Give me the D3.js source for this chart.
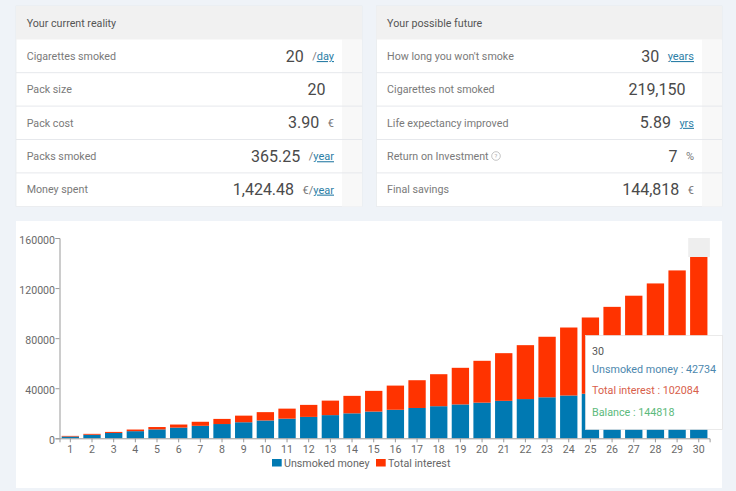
<!DOCTYPE html>
<html><head><meta charset="utf-8">
<script src="https://cdn.jsdelivr.net/npm/d3@7/dist/d3.min.js"></script>
<style>
html,body{margin:0;padding:0;background:#eff3f8;overflow:hidden}
svg{display:block;font-family:Roboto,sans-serif}
</style></head><body><svg id="c" width="736" height="491"></svg>
<script>
const years=d3.range(1,31).map(String);
const unsmoked=[1424,2849,4273,5698,7122,8547,9971,11396,12820,14245,15669,17094,18518,19943,21367,22792,24216,25641,27065,28490,29914,31339,32763,34188,35612,37036,38461,39885,41310,42734];
const interest=[500,700,830,1300,1880,2450,3230,4100,5280,6650,8030,9600,11580,13960,16530,19310,22180,25560,29240,33410,38090,43060,48340,54310,60890,67960,75440,83820,92790,102084];
const yTicks=[0,40000,80000,120000,160000];
const seriesNames=["Unsmoked money","Total interest"];
const seriesColors=["#0079b2","#ff3300"];
const leftTitle="Your current reality";
const leftLabels=["Cigarettes smoked","Pack size","Pack cost","Packs smoked","Money spent"];
const leftValues=["20","20","3.90","365.25","1,424.48"];
const leftUnits=[["/","day"],["",""],["€",""],["/","year"],["€/","year"]];
const rightTitle="Your possible future";
const rightLabels=["How long you won't smoke","Cigarettes not smoked","Life expectancy improved","Return on Investment","Final savings"];
const rightValues=["30","219,150","5.89","7","144,818"];
const rightUnits=[["","years"],["",""],["","yrs"],["%",""],["€",""]];
const tipTitle="30";
const tipLines=[["Unsmoked money : 42734","#4d88ae"],["Total interest : 102084","#d8604b"],["Balance : 144818","#5cba7c"]];

const svg=d3.select("#c");
function panel(x,w,title,labels,values,units){
  const g=svg.append("g");
  const top=6,h=200.5;
  g.append("rect").attr("x",x).attr("y",top).attr("width",w).attr("height",h).attr("fill","#fff").attr("stroke","#e6e8ec").attr("stroke-width",.7);
  g.append("rect").attr("x",x+w-20).attr("y",39.5).attr("width",20).attr("height",167).attr("fill","#f8f8f8");
  g.append("rect").attr("x",x).attr("y",top).attr("width",w).attr("height",33.5).attr("fill","#f1f1f1");
  g.append("text").attr("x",x+10.7).attr("y",26.5).attr("font-size",10.7).attr("fill","#555").text(title);
  const rowH=33.4, endUnit=x+w-28;
  labels.forEach((l,i)=>{
    const cy=56+i*rowH;
    if(i>0) g.append("line").attr("x1",x).attr("x2",x+w).attr("y1",cy-16.7).attr("y2",cy-16.7).attr("stroke","#e6e8ec");
    g.append("text").attr("x",x+10.7).attr("y",cy+3.8).attr("font-size",10.7).attr("fill","#7a7a7a").text(l);
    const u=units[i];
    let start=endUnit;
    if(u[0]||u[1]){
      const t=g.append("text").attr("x",endUnit).attr("y",cy+4).attr("text-anchor","end").attr("font-size",11).attr("fill","#777");
      if(u[0]) t.append("tspan").text(u[0]);
      if(u[1]) t.append("tspan").attr("fill","#2c7ea6").attr("text-decoration","underline").text(u[1]);
      start=endUnit-t.node().getComputedTextLength();
    }
    g.append("text").attr("x",start-8.5).attr("y",cy+5.6).attr("text-anchor","end").attr("font-size",16).attr("fill","#4a4a4a").text(values[i]);
  });
}
panel(16,346,leftTitle,leftLabels,leftValues,leftUnits);
panel(376.4,345.6,rightTitle,rightLabels,rightValues,rightUnits);

svg.append("rect").attr("x",16).attr("y",221).attr("width",706).attr("height",267).attr("fill","#fff");

const x=d3.scaleBand().domain(years).range([59.5,709.6]).paddingInner(.2).paddingOuter(.1);
const y=d3.scaleLinear().domain([0,160000]).range([438.3,238]);

svg.append("rect").attr("x",x("30")-1.9).attr("y",y(160000)).attr("width",x.step()).attr("height",y(144818)-y(160000)).attr("fill","#eeeeee");

const stack=d3.stack().keys([0,1]).value((d,k)=>k===0?unsmoked[d]:interest[d])(d3.range(years.length));
svg.append("g").selectAll("g").data(stack).join("g").attr("fill",(d,i)=>seriesColors[i])
 .selectAll("rect").data(d=>d.map((v,i)=>({v,i}))).join("rect")
 .attr("x",d=>x(years[d.i])).attr("width",x.bandwidth())
 .attr("y",d=>y(d.v[1])).attr("height",d=>y(d.v[0])-y(d.v[1]));

const ax=svg.append("g").attr("transform","translate(0,438.3)").call(d3.axisBottom(x).tickSize(4).tickPadding(3));
const ay=svg.append("g").attr("transform","translate(59.5,0)").call(d3.axisLeft(y).tickValues(yTicks).tickFormat(d3.format("d")).tickSize(4).tickPadding(0.5));
[ax,ay].forEach(a=>{
  a.selectAll("path,line").attr("stroke","#999");
  a.selectAll("text").attr("fill","#6a6a6a").attr("font-size",10.6).attr("font-family","Roboto,sans-serif");
});
ay.selectAll("text").attr("transform","translate(0,2)");

const leg=svg.append("g");
[[272,284],[376,388]].forEach((p,i)=>{
  leg.append("rect").attr("x",p[0]).attr("y",459).attr("width",9.7).attr("height",7.5).attr("fill",seriesColors[i]);
  leg.append("text").attr("x",p[1]).attr("y",466.5).attr("font-size",10.7).attr("fill","#666").text(seriesNames[i]);
});

const tip=svg.append("g");
tip.append("rect").attr("x",585.5).attr("y",335.5).attr("width",137).attr("height",94).attr("fill","#fff").attr("stroke","#e2e2e2").attr("stroke-width",.7);
tip.append("text").attr("x",592).attr("y",354.5).attr("font-size",10.7).attr("fill","#555").text(tipTitle);
tipLines.forEach((l,i)=>tip.append("text").attr("x",592).attr("y",373+i*21.3).attr("font-size",10.75).attr("fill",l[1]).text(l[0]));

const ig=svg.append("g");
ig.append("circle").attr("cx",496).attr("cy",156).attr("r",4.3).attr("fill","none").attr("stroke","#aaa").attr("stroke-width",.7);
ig.append("text").attr("x",496).attr("y",158.2).attr("text-anchor","middle").attr("font-size",6).attr("fill","#aaa").text("?");
</script></body></html>
